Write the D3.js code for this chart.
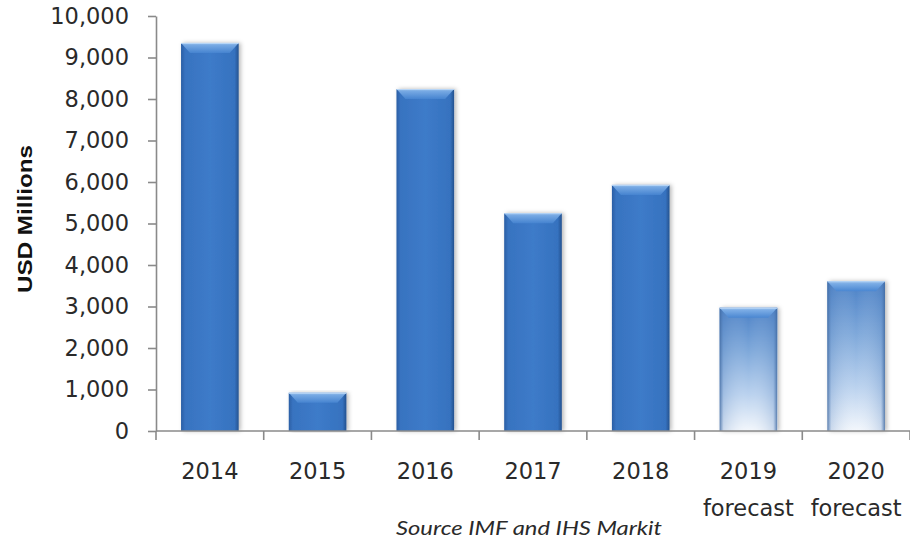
<!DOCTYPE html>
<html>
<head>
<meta charset="utf-8">
<script src="https://cdn.jsdelivr.net/npm/d3@7"></script>
<style>
  html, body { margin: 0; padding: 0; background: #ffffff; }
  svg { display: block; }
</style>
</head>
<body>
<svg id="chart" width="910" height="543"></svg>
<script>
// Annual values, USD millions
const years = ["2014", "2015", "2016", "2017", "2018", "2019", "2020"];
const subLabels = ["", "", "", "", "", "forecast", "forecast"];
const values = [9350, 920, 8240, 5250, 5930, 2970, 3610];
const forecast = [false, false, false, false, false, true, true];
const yTicks = [0, 1000, 2000, 3000, 4000, 5000, 6000, 7000, 8000, 9000, 10000];
const yTitle = "USD Millions";
const sourceNote = "Source IMF and IHS Markit";

const svg = d3.select("#chart");
const defs = svg.append("defs");

const x = d3.scaleBand().domain(years).range([156, 910]);
const y = d3.scaleLinear().domain([0, 10000]).range([431, 16]);
const barW = x.bandwidth() * 0.535;

// gradients
function linGrad(id, horiz, stops) {
  const g = defs.append("linearGradient").attr("id", id)
    .attr("x1", 0).attr("y1", 0)
    .attr("x2", horiz ? 1 : 0).attr("y2", horiz ? 0 : 1);
  stops.forEach(s => g.append("stop").attr("offset", s[0]).attr("stop-color", s[1])
    .attr("stop-opacity", s[2] == null ? 1 : s[2]));
}
linGrad("solidBody", true, [[0, "#2a5ea4"], [0.07, "#3873c0"], [0.5, "#3d7bc9"], [0.93, "#3672bf"], [1, "#24528f"]]);
linGrad("bevelTop", false, [[0, "#a6cbf2"], [0.25, "#7fb0e8"], [1, "#4886d2"]]);
linGrad("fcBody", false, [[0, "#4a80c6"], [0.35, "#7ea8da"], [0.7, "#b9d1ee"], [1, "#f3f7fc"]]);
linGrad("fcEdges", true, [[0, "#3e679e", 0.85], [0.07, "#5b86bf", 0.25], [0.5, "#ffffff", 0], [0.93, "#5b86bf", 0.25], [1, "#3e679e", 0.85]]);

const shadow = defs.append("filter").attr("id", "shadow")
  .attr("x", "-20%").attr("y", "-5%").attr("width", "140%").attr("height", "110%");
shadow.append("feDropShadow").attr("dx", 2).attr("dy", 0).attr("stdDeviation", 2.2)
  .attr("flood-color", "#000").attr("flood-opacity", 0.28);

// bars
const bars = svg.append("g").selectAll("g.bar")
  .data(years.map((yr, i) => ({ yr, v: values[i], fc: forecast[i] })))
  .join("g").attr("class", "bar");

bars.each(function (d) {
  const g = d3.select(this);
  const cx = x(d.yr) + x.bandwidth() / 2;
  const x0 = cx - barW / 2, x1 = cx + barW / 2;
  const top = y(d.v), base = y(0);
  g.append("rect")
    .attr("x", x0).attr("y", top).attr("width", barW).attr("height", base - top)
    .attr("fill", d.fc ? "url(#fcBody)" : "url(#solidBody)")
    .attr("filter", "url(#shadow)");
  if (d.fc) {
    g.append("rect")
      .attr("x", x0).attr("y", top).attr("width", barW).attr("height", base - top)
      .attr("fill", "url(#fcEdges)");
  }
  const bev = Math.min(10, (base - top) / 3);
  g.append("path")
    .attr("d", `M${x0},${top}L${x1},${top}L${x1 - 9},${top + bev}L${x0 + 9},${top + bev}Z`)
    .attr("fill", "url(#bevelTop)").attr("opacity", d.fc ? 0.9 : 0.85);
  g.append("line")
    .attr("x1", x0).attr("x2", x1).attr("y1", top + 0.5).attr("y2", top + 0.5)
    .attr("stroke", "#b8d6f6").attr("stroke-width", 1);
});

// y axis
const yAxis = svg.append("g").attr("transform", "translate(156,0)")
  .call(d3.axisLeft(y).tickValues(yTicks).tickFormat(d3.format(",")).tickSize(8).tickSizeOuter(0).tickPadding(19));
yAxis.select(".domain").attr("stroke", "#8a8a8a").attr("stroke-width", 1.6);
yAxis.selectAll(".tick line").attr("stroke", "#8a8a8a").attr("stroke-width", 1.6);
yAxis.selectAll(".tick text")
  .attr("font-family", "DejaVu Sans, Verdana, sans-serif")
  .attr("font-size", 22.5).attr("fill", "#2a2a2a");

// x axis: baseline with ticks on category boundaries
const xAxis = svg.append("g");
const bounds = [x.range()[0]].concat(years.map(yr => x(yr) + x.bandwidth()));
xAxis.append("line")
  .attr("x1", x.range()[0]).attr("x2", x.range()[1])
  .attr("y1", y(0)).attr("y2", y(0))
  .attr("stroke", "#8a8a8a").attr("stroke-width", 1.6);
xAxis.selectAll("line.tk").data(bounds).join("line").attr("class", "tk")
  .attr("x1", d => d).attr("x2", d => d)
  .attr("y1", y(0)).attr("y2", y(0) + 9)
  .attr("stroke", "#8a8a8a").attr("stroke-width", 1.6);

const xl = xAxis.selectAll("g.lbl").data(years.map((yr, i) => ({ yr, sub: subLabels[i] })))
  .join("g").attr("class", "lbl")
  .attr("transform", d => `translate(${x(d.yr) + x.bandwidth() / 2},0)`);
xl.append("text").attr("y", 479).attr("text-anchor", "middle")
  .attr("font-family", "DejaVu Sans, Verdana, sans-serif").attr("font-size", 22.5)
  .attr("fill", "#2a2a2a").text(d => d.yr);
xl.filter(d => d.sub).append("text").attr("y", 516).attr("text-anchor", "middle")
  .attr("font-family", "DejaVu Sans, Verdana, sans-serif").attr("font-size", 22.5)
  .attr("fill", "#2a2a2a").text(d => d.sub);

// axis title
svg.append("text")
  .attr("transform", "translate(32,219) rotate(-90)")
  .attr("text-anchor", "middle")
  .attr("font-family", "Liberation Sans, Arial, sans-serif")
  .attr("font-weight", "bold").attr("font-size", 21)
  .attr("textLength", 148).attr("lengthAdjust", "spacingAndGlyphs")
  .attr("fill", "#111").text(yTitle);

// source note
svg.append("text")
  .attr("x", 529).attr("y", 535).attr("text-anchor", "middle")
  .attr("font-family", "Lato, sans-serif").attr("font-style", "italic")
  .attr("font-size", 19).attr("textLength", 266).attr("lengthAdjust", "spacingAndGlyphs")
  .attr("fill", "#2a2a2a").text(sourceNote);
</script>
</body>
</html>
